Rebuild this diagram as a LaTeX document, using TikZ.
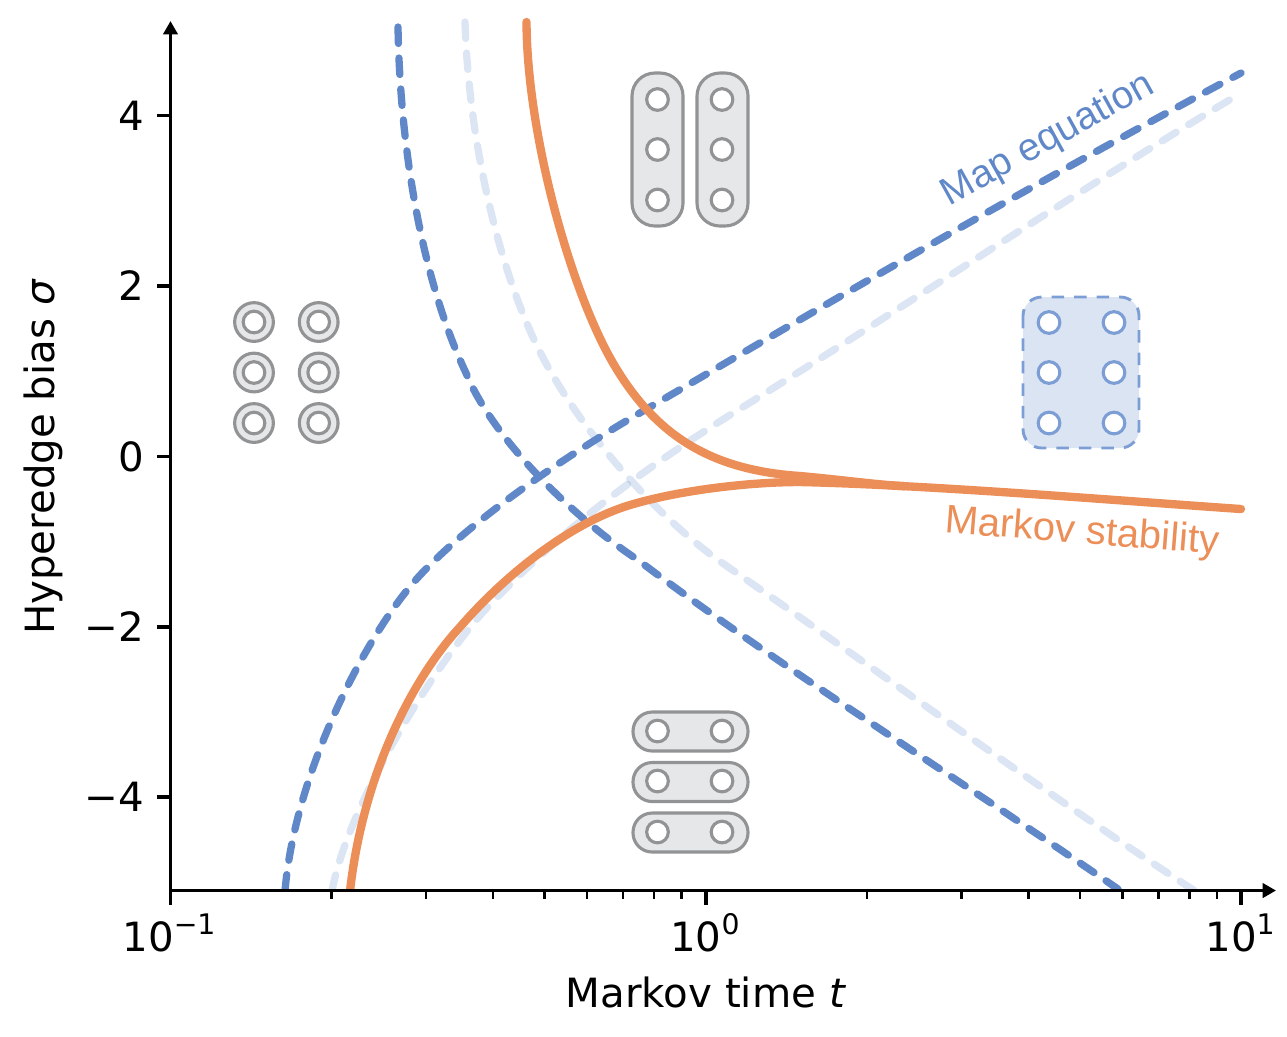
\documentclass[tikz,border=0pt]{standalone}
\usepackage{fontspec}
\setmainfont{DejaVu Sans}
\newfontfamily\curvefont{Liberation Sans}
\usetikzlibrary{arrows.meta}
\definecolor{curveblue}{HTML}{6088C8}
\definecolor{curveorange}{HTML}{EC8E57}
\definecolor{icongrey}{HTML}{929395}
\definecolor{iconfill}{HTML}{E6E7E9}
\definecolor{iconblue}{HTML}{7D9ED4}
\definecolor{iconbluefill}{HTML}{DBE4F3}
\tikzset{
  axisline/.style={line width=0.85pt,black,-{Triangle[length=3.2pt,width=3.4pt]}},
  majortick/.style={line width=0.8pt,black},
  minortick/.style={line width=0.6pt,black},
  dashcurve/.style={line width=1.75pt,line cap=round,curveblue,dash pattern=on 3.95pt off 3.5pt},
  lightcurve/.style={dashcurve,draw opacity=0.22},
  solidcurve/.style={line width=2pt,line cap=round,line join=round,curveorange},
  hyperedge/.style={draw=icongrey,fill=iconfill,line width=0.75pt,rounded corners=5.5pt},
  groupedge/.style={draw=iconblue,fill=iconbluefill,line width=0.7pt,rounded corners=4.5pt,dash pattern=on 3pt off 2.4pt},
  vertex/.style={draw=icongrey,fill=white,line width=0.75pt},
  bluevertex/.style={draw=iconblue,fill=white,line width=0.75pt},
  ticklabel/.style={inner sep=0pt,font=\fontsize{9.67}{12}\selectfont,text=black},
  maplabel/.style={inner sep=0pt,font=\curvefont\fontsize{9.35}{11}\selectfont},
  markovlabel/.style={inner sep=0pt,font=\curvefont\fontsize{9.58}{11}\selectfont}
}
\newcommand{\decade}[2]{10\raisebox{0.42em}{\fontsize{6.8}{8}\selectfont #2}}
\begin{document}
\begin{tikzpicture}[x=0.24pt,y=-0.24pt]
\useasboundingbox (0,0) rectangle (1287,1036);
% curves
\begin{scope}
\clip (170,0) rectangle (1287,890.5);
\draw[lightcurve] (465,22) .. controls (469,150) and (503,287) .. (548,367)
  .. controls (593,447) and (663,520) .. (718,560)
  .. controls (870,665) and (1040,790) .. (1195,891);
\draw[lightcurve] (332,891) .. controls (347,810) and (425,678) .. (483,612)
  .. controls (560,530) and (645,468) .. (730,415)
  .. controls (900,310) and (1070,195) .. (1241,93);
\draw[dashcurve] (398,27) .. controls (400,145) and (421,278) .. (466,373)
  .. controls (492,437) and (570,515) .. (638,560)
  .. controls (770,660) and (960,780) .. (1118,889);
\draw[dashcurve] (285,891) .. controls (295,770) and (370,625) .. (425,570)
  .. controls (488,505) and (597,437) .. (657,403)
  .. controls (850,290) and (1040,180) .. (1241,73);
\draw[solidcurve] (526.5,22) .. controls (527,135) and (571,291) .. (613,363)
  .. controls (655,435) and (710,470) .. (800,476)
  .. controls (840,479.5) and (875,484.6) .. (905,486.2);
\draw[solidcurve] (350,891) .. controls (363,775) and (412,679) .. (460,627)
  .. controls (505,575) and (570,523) .. (630,505)
  .. controls (680,490) and (750,482) .. (800,482)
  .. controls (930,485) and (1110,500) .. (1241,509);
\end{scope}
% axes
\draw[axisline] (170.5,890.5) -- (1276,890.5);
\draw[axisline] (170.5,890.5) -- (170.5,21);
\foreach \x in {170.5,706,1241} \draw[majortick] (\x,890.5) -- (\x,904.5);
\foreach \d in {170.5,706}
  \foreach \m in {2,...,9}
    \draw[minortick] ({\d+535.3*log10(\m)},890.5) -- ({\d+535.3*log10(\m)},898.5);
\foreach \y in {115.5,286,456.5,627,797} \draw[majortick] (170.5,\y) -- (156.5,\y);
% tick labels
\node[ticklabel,anchor=east] (ylabfour) at (145,115.5) {4};
\node[ticklabel,anchor=east] (ylabtwo) at (145,286) {2};
\node[ticklabel,anchor=east] (ylabzero) at (145,456.5) {0};
\node[ticklabel,anchor=east] (ylabmtwo) at (145,627) {−2};
\node[ticklabel,anchor=east] (ylabmfour) at (145,797) {−4};
\node[ticklabel,anchor=base] (xlaba) at (169,951) {\decade{10}{−1}};
\node[ticklabel,anchor=base] (xlabb) at (705,951) {\decade{10}{0}};
\node[ticklabel,anchor=base] (xlabc) at (1240,951) {\decade{10}{1}};
\node[ticklabel,anchor=base] (xtitle) at (706,1007) {Markov time \textit{t}};
\node[ticklabel,anchor=base,rotate=90] (ytitle) at (54,457) {Hyperedge bias \textit{σ}};
\node[maplabel,text=curveblue,rotate=29] (mapeq) at (1048,140) {Map equation};
\node[markovlabel,text=curveorange,rotate=-4.5] (markov) at (1082,533) {Markov stability};
% icons: top
\draw[hyperedge] (632,73) rectangle (683,226);
\draw[hyperedge] (697,73) rectangle (748,226);
\foreach \x in {657.5,722} \foreach \y in {99.5,149.5,200} \draw[vertex] (\x,\y) circle[radius=2.6pt];
% icons: left
\foreach \x in {254,318.7} \foreach \y in {322,372.5,423} {
  \draw[hyperedge] (\x,\y) circle[radius=4.65pt];
  \draw[vertex] (\x,\y) circle[radius=2.6pt];
}
% icons: right
\draw[groupedge] (1023,297) rectangle (1139,448);
\foreach \x in {1049,1114} \foreach \y in {322.5,372.5,423} \draw[bluevertex] (\x,\y) circle[radius=2.6pt];
% icons: bottom
\foreach \y in {712,762.5,813} \draw[hyperedge,rounded corners=4.6pt] (633,\y) rectangle (748,\y+39);
\foreach \x in {657.5,722} \foreach \y in {731,781,832} \draw[vertex] (\x,\y) circle[radius=2.6pt];
\end{tikzpicture}
\end{document}
